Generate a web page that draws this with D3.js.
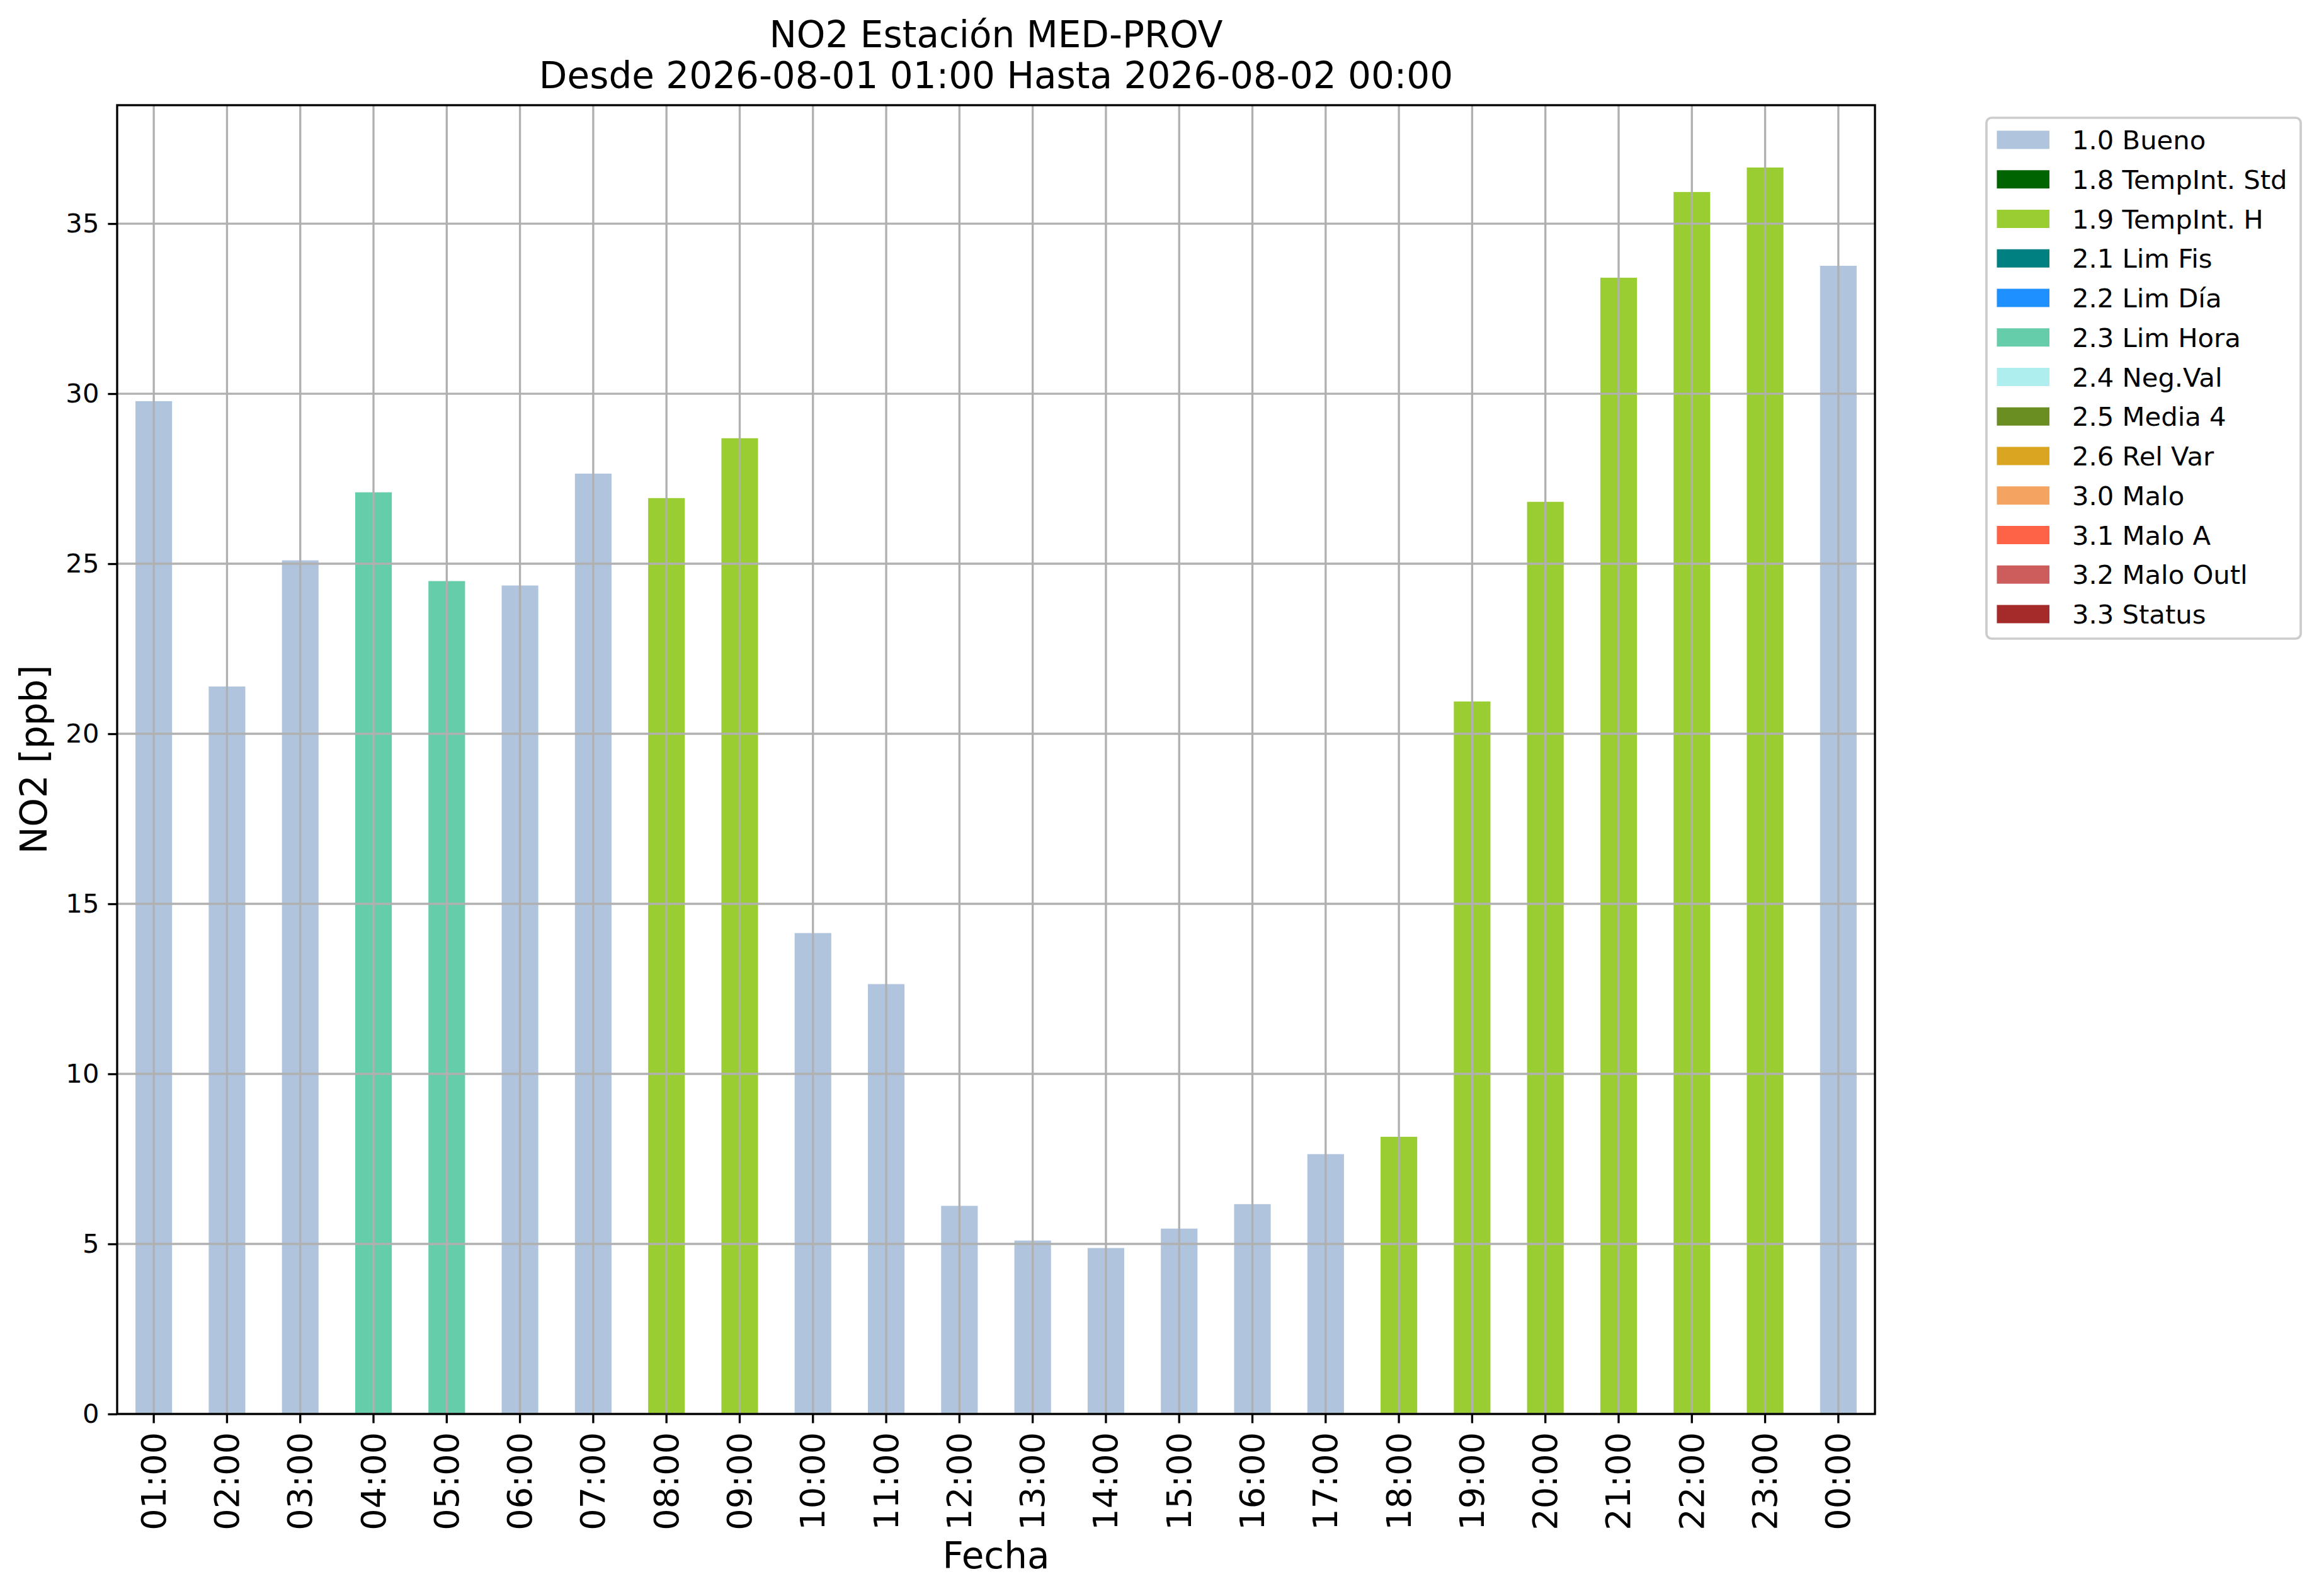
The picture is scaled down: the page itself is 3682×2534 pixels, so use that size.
<!DOCTYPE html>
<html>
<head>
<meta charset="utf-8">
<script src="https://cdn.jsdelivr.net/npm/d3@7"></script>
<style>
  body { margin: 0; background: #fff; }
  text { font-family: "DejaVu Sans", sans-serif; }
</style>
</head>
<body>
<div id="chart"></div>
<script>
// Hour labels along the x axis
const hours = ["01:00", "02:00", "03:00", "04:00", "05:00", "06:00", "07:00", "08:00",
    "09:00", "10:00", "11:00", "12:00", "13:00", "14:00", "15:00", "16:00",
    "17:00", "18:00", "19:00", "20:00", "21:00", "22:00", "23:00", "00:00"];

// NO2 hourly values [ppb]
const no2Values = [29.78, 21.39, 25.10, 27.10, 24.49, 24.36, 27.65, 26.93,
    28.69, 14.14, 12.64, 6.12, 5.10, 4.88, 5.45, 6.17,
    7.64, 8.15, 20.95, 26.82, 33.41, 35.93, 36.65, 33.76];

// Validation flag of each hour
const hourFlags = ["1.0", "1.0", "1.0", "2.3", "2.3", "1.0", "1.0", "1.9",
    "1.9", "1.0", "1.0", "1.0", "1.0", "1.0", "1.0", "1.0",
    "1.0", "1.9", "1.9", "1.9", "1.9", "1.9", "1.9", "1.0"];

// Legend flag codes, names and colours
const flagCodes = ["1.0", "1.8", "1.9", "2.1", "2.2", "2.3", "2.4", "2.5", "2.6", "3.0", "3.1", "3.2", "3.3"];
const flagNames = ["Bueno", "TempInt. Std", "TempInt. H", "Lim Fis", "Lim Día", "Lim Hora",
    "Neg.Val", "Media 4", "Rel Var", "Malo", "Malo A", "Malo Outl", "Status"];
const flagColors = ["#b0c4de", "#006400", "#9acd32", "#008080", "#1e90ff", "#66cdaa",
    "#afeeee", "#6b8e23", "#daa520", "#f4a460", "#ff6347", "#cd5c5c", "#a52a2a"];

const yTicks = [0, 5, 10, 15, 20, 25, 30, 35];

const titleLines = ["NO2 Estación MED-PROV", "Desde 2026-08-01 01:00 Hasta 2026-08-02 00:00"];

const width = 3682,
    height = 2534;

// plot area
const plotLeft = 186, plotRight = 2977, plotTop = 167, plotBottom = 2245;
const lw = 3.33;        // 0.8pt line width
const tickLen = 14.6;
const gridColor = "#b0b0b0";

const svg = d3.select("#chart")
    .append("svg")
    .attr("width", width)
    .attr("height", height);

svg.append("rect").attr("width", width).attr("height", height).attr("fill", "#fff");

const x = d3.scaleBand()
    .domain(hours)
    .range([plotLeft, plotRight])
    .paddingInner(0.5)
    .paddingOuter(0.25);

const y = d3.scaleLinear()
    .domain([0, d3.max(no2Values) * 1.05])
    .range([plotBottom, plotTop]);

const colorOf = d3.scaleOrdinal().domain(flagCodes).range(flagColors);

// bars
svg.append("g")
    .selectAll("rect")
    .data(hours)
    .join("rect")
    .attr("x", d => x(d))
    .attr("width", x.bandwidth())
    .attr("y", (d, i) => y(no2Values[i]))
    .attr("height", (d, i) => y(0) - y(no2Values[i]))
    .attr("fill", (d, i) => colorOf(hourFlags[i]));

// grid (above the bars, as in the original)
const grid = svg.append("g").attr("stroke", gridColor).attr("stroke-width", lw);
grid.selectAll("line.v")
    .data(hours)
    .join("line")
    .attr("class", "v")
    .attr("x1", d => x(d) + x.bandwidth() / 2)
    .attr("x2", d => x(d) + x.bandwidth() / 2)
    .attr("y1", plotTop)
    .attr("y2", plotBottom);
grid.selectAll("line.h")
    .data(yTicks)
    .join("line")
    .attr("class", "h")
    .attr("x1", plotLeft)
    .attr("x2", plotRight)
    .attr("y1", d => y(d))
    .attr("y2", d => y(d));

// y axis
const yAxis = svg.append("g")
    .attr("transform", `translate(${plotLeft},0)`)
    .call(d3.axisLeft(y).tickValues(yTicks).tickSize(tickLen).tickPadding(14));
yAxis.select(".domain").remove();
yAxis.selectAll(".tick line").attr("stroke", "#000").attr("stroke-width", lw);
yAxis.selectAll(".tick text")
    .attr("font-size", 41.7)
    .attr("font-family", "DejaVu Sans")
    .attr("fill", "#000");

// x axis
const xAxis = svg.append("g")
    .attr("transform", `translate(0,${plotBottom})`)
    .call(d3.axisBottom(x).tickSize(tickLen).tickPadding(0));
xAxis.select(".domain").remove();
xAxis.selectAll(".tick line").attr("stroke", "#000").attr("stroke-width", lw);
xAxis.selectAll(".tick text")
    .attr("font-size", 54)
    .attr("font-family", "DejaVu Sans")
    .attr("fill", "#000")
    .attr("text-anchor", "end")
    .attr("dy", null)
    .attr("y", 0)
    .attr("dominant-baseline", "central")
    .attr("transform", "translate(0,29) rotate(-90)");

// axes frame
svg.append("rect")
    .attr("x", plotLeft)
    .attr("y", plotTop)
    .attr("width", plotRight - plotLeft)
    .attr("height", plotBottom - plotTop)
    .attr("fill", "none")
    .attr("stroke", "#000")
    .attr("stroke-width", lw);

// title
const cx = (plotLeft + plotRight) / 2;
svg.append("g")
    .selectAll("text")
    .data(titleLines)
    .join("text")
    .attr("x", cx)
    .attr("y", (d, i) => 75 + i * 65)
    .attr("text-anchor", "middle")
    .attr("font-size", 58)
    .attr("fill", "#000")
    .text(d => d);

// axis labels
svg.append("text")
    .attr("x", cx)
    .attr("y", 2490)
    .attr("text-anchor", "middle")
    .attr("font-size", 58)
    .text("Fecha");

svg.append("text")
    .attr("transform", `translate(74,${(plotTop + plotBottom) / 2}) rotate(-90)`)
    .attr("text-anchor", "middle")
    .attr("font-size", 58)
    .text("NO2 [ppb]");

// legend
const legX = 3154, legY = 187, legW = 499, legH = 827;
const legend = svg.append("g");
legend.append("rect")
    .attr("x", legX)
    .attr("y", legY)
    .attr("width", legW)
    .attr("height", legH)
    .attr("rx", 8)
    .attr("fill", "#fff")
    .attr("fill-opacity", 0.8)
    .attr("stroke", "#cccccc")
    .attr("stroke-width", 3.7);

const rowY = d3.scaleLinear().domain([0, flagCodes.length - 1]).range([222, 975]);
const rows = legend.selectAll("g.row")
    .data(flagCodes)
    .join("g")
    .attr("class", "row");
rows.append("rect")
    .attr("x", 3170.5)
    .attr("y", (d, i) => rowY(i) - 14.5)
    .attr("width", 83.5)
    .attr("height", 29)
    .attr("fill", d => colorOf(d));
rows.append("text")
    .attr("x", 3290)
    .attr("y", (d, i) => rowY(i) + 15)
    .attr("font-size", 41.7)
    .attr("fill", "#000")
    .text((d, i) => `${d} ${flagNames[i]}`);
</script>
</body>
</html>
